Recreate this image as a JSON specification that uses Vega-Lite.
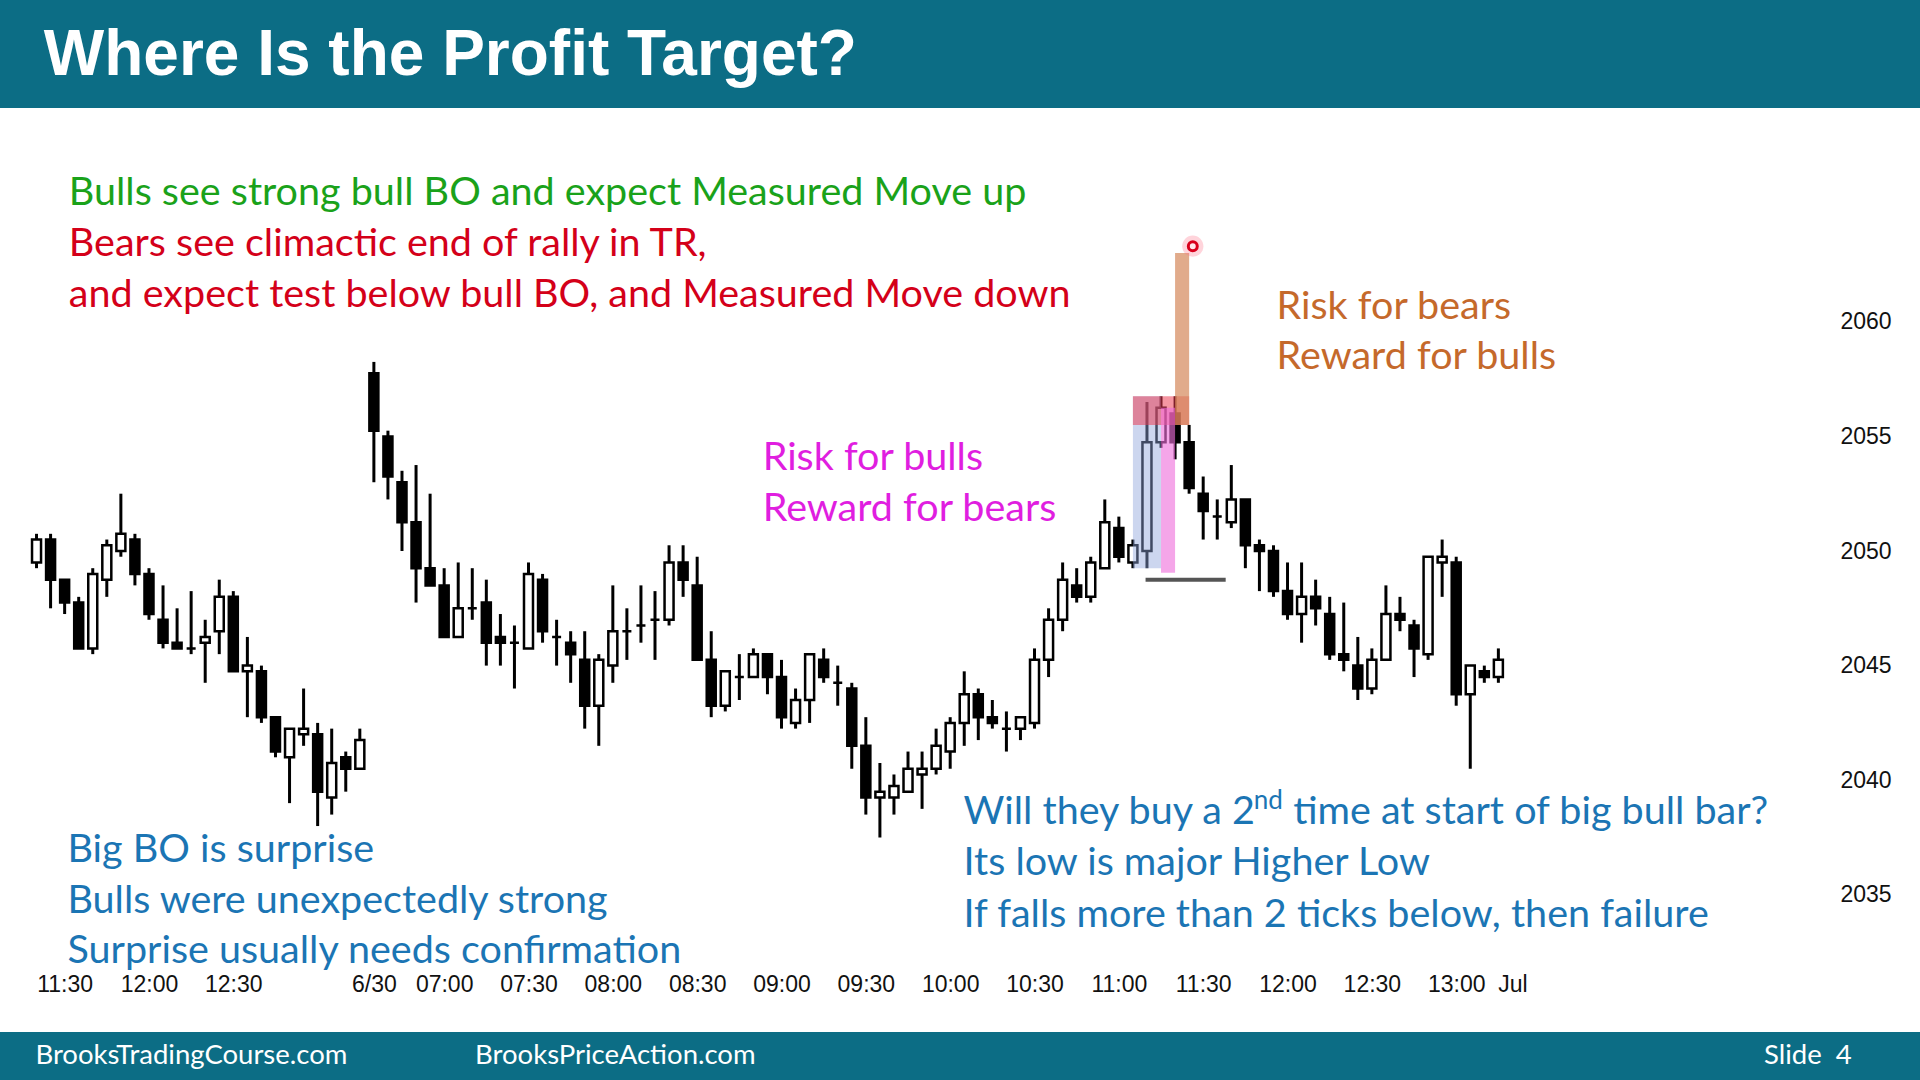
{
  "$schema": "https://vega.github.io/schema/vega-lite/v6.json",
  "width": 1920,
  "height": 1080,
  "autosize": {"type": "none"},
  "padding": 0,
  "background": "white",
  "config": {"view": {"stroke": null}, "axis": {"grid": false, "domain": false, "ticks": false, "tickSize": 0}},
  "datasets": {
    "bands": [
      {"x1": -10, "x2": 150, "y1": 2069.33, "y2": 2080},
      {"x1": -10, "x2": 150, "y1": 2020, "y2": 2029.01}
    ],
    "candles": [
      {"i":0,"o":2049.5,"h":2050.75,"l":2049.25,"c":2050.5},
      {"i":1,"o":2050.5,"h":2050.75,"l":2047.5,"c":2048.75},
      {"i":2,"o":2048.75,"h":2048.75,"l":2047.25,"c":2047.75},
      {"i":3,"o":2047.75,"h":2048.0,"l":2045.75,"c":2045.75},
      {"i":4,"o":2045.75,"h":2049.25,"l":2045.5,"c":2049.0},
      {"i":5,"o":2048.75,"h":2050.5,"l":2048.0,"c":2050.25},
      {"i":6,"o":2050.0,"h":2052.5,"l":2049.75,"c":2050.75},
      {"i":7,"o":2050.5,"h":2050.75,"l":2048.5,"c":2049.0},
      {"i":8,"o":2049.0,"h":2049.25,"l":2047.0,"c":2047.25},
      {"i":9,"o":2047.0,"h":2048.5,"l":2045.75,"c":2046.0},
      {"i":10,"o":2046.0,"h":2047.5,"l":2045.75,"c":2045.75},
      {"i":11,"o":2045.75,"h":2048.25,"l":2045.5,"c":2045.75},
      {"i":12,"o":2046.0,"h":2047.0,"l":2044.25,"c":2046.25},
      {"i":13,"o":2046.5,"h":2048.75,"l":2045.5,"c":2048.0},
      {"i":14,"o":2048.0,"h":2048.25,"l":2044.75,"c":2044.75},
      {"i":15,"o":2044.75,"h":2046.25,"l":2042.75,"c":2045.0},
      {"i":16,"o":2044.75,"h":2045.0,"l":2042.5,"c":2042.75},
      {"i":17,"o":2042.75,"h":2042.75,"l":2041.0,"c":2041.25},
      {"i":18,"o":2041.0,"h":2042.25,"l":2039.0,"c":2042.25},
      {"i":19,"o":2042.0,"h":2044.0,"l":2041.5,"c":2042.25},
      {"i":20,"o":2042.0,"h":2042.5,"l":2038.0,"c":2039.5},
      {"i":21,"o":2039.25,"h":2042.25,"l":2038.5,"c":2040.75},
      {"i":22,"o":2041.0,"h":2041.25,"l":2039.5,"c":2040.5},
      {"i":23,"o":2040.5,"h":2042.25,"l":2040.5,"c":2041.75},
      {"i":24,"o":2057.75,"h":2058.25,"l":2053.0,"c":2055.25},
      {"i":25,"o":2055.0,"h":2055.25,"l":2052.25,"c":2053.25},
      {"i":26,"o":2053.0,"h":2053.5,"l":2050.0,"c":2051.25},
      {"i":27,"o":2051.25,"h":2053.75,"l":2047.75,"c":2049.25},
      {"i":28,"o":2049.25,"h":2052.5,"l":2048.5,"c":2048.5},
      {"i":29,"o":2048.5,"h":2049.25,"l":2046.25,"c":2046.25},
      {"i":30,"o":2046.25,"h":2049.5,"l":2046.25,"c":2047.5},
      {"i":31,"o":2047.5,"h":2049.25,"l":2047.0,"c":2047.5},
      {"i":32,"o":2047.75,"h":2048.75,"l":2045.0,"c":2046.0},
      {"i":33,"o":2046.25,"h":2047.25,"l":2045.0,"c":2046.0},
      {"i":34,"o":2046.0,"h":2046.75,"l":2044.0,"c":2046.0},
      {"i":35,"o":2045.75,"h":2049.5,"l":2045.75,"c":2049.0},
      {"i":36,"o":2048.75,"h":2049.0,"l":2046.0,"c":2046.5},
      {"i":37,"o":2046.25,"h":2047.0,"l":2045.0,"c":2046.25},
      {"i":38,"o":2046.0,"h":2046.5,"l":2044.25,"c":2045.5},
      {"i":39,"o":2045.25,"h":2046.5,"l":2042.25,"c":2043.25},
      {"i":40,"o":2043.25,"h":2045.5,"l":2041.5,"c":2045.25},
      {"i":41,"o":2045.0,"h":2048.5,"l":2044.25,"c":2046.5},
      {"i":42,"o":2046.5,"h":2047.5,"l":2045.25,"c":2046.5},
      {"i":43,"o":2046.75,"h":2048.5,"l":2046.0,"c":2046.75},
      {"i":44,"o":2047.0,"h":2048.25,"l":2045.25,"c":2047.0},
      {"i":45,"o":2047.0,"h":2050.25,"l":2046.75,"c":2049.5},
      {"i":46,"o":2049.5,"h":2050.25,"l":2048.0,"c":2048.75},
      {"i":47,"o":2048.5,"h":2049.75,"l":2045.25,"c":2045.25},
      {"i":48,"o":2045.25,"h":2046.5,"l":2042.75,"c":2043.25},
      {"i":49,"o":2043.25,"h":2044.75,"l":2043.0,"c":2044.75},
      {"i":50,"o":2044.5,"h":2045.5,"l":2043.5,"c":2044.5},
      {"i":51,"o":2044.5,"h":2045.75,"l":2044.5,"c":2045.5},
      {"i":52,"o":2045.5,"h":2045.5,"l":2043.75,"c":2044.5},
      {"i":53,"o":2044.5,"h":2045.25,"l":2042.25,"c":2042.75},
      {"i":54,"o":2042.5,"h":2044.0,"l":2042.25,"c":2043.5},
      {"i":55,"o":2043.5,"h":2045.5,"l":2042.5,"c":2045.5},
      {"i":56,"o":2045.25,"h":2045.75,"l":2044.25,"c":2044.5},
      {"i":57,"o":2044.25,"h":2045.0,"l":2043.25,"c":2044.25},
      {"i":58,"o":2044.0,"h":2044.25,"l":2040.5,"c":2041.5},
      {"i":59,"o":2041.5,"h":2042.75,"l":2038.5,"c":2039.25},
      {"i":60,"o":2039.25,"h":2040.75,"l":2037.5,"c":2039.5},
      {"i":61,"o":2039.25,"h":2040.25,"l":2038.5,"c":2039.75},
      {"i":62,"o":2039.5,"h":2041.25,"l":2039.5,"c":2040.5},
      {"i":63,"o":2040.25,"h":2041.25,"l":2038.75,"c":2040.5},
      {"i":64,"o":2040.5,"h":2042.25,"l":2040.25,"c":2041.5},
      {"i":65,"o":2041.25,"h":2042.75,"l":2040.5,"c":2042.5},
      {"i":66,"o":2042.5,"h":2044.75,"l":2041.5,"c":2043.75},
      {"i":67,"o":2043.75,"h":2044.0,"l":2041.75,"c":2042.75},
      {"i":68,"o":2042.75,"h":2043.5,"l":2042.25,"c":2042.5},
      {"i":69,"o":2042.25,"h":2043.0,"l":2041.25,"c":2042.25},
      {"i":70,"o":2042.25,"h":2042.75,"l":2041.75,"c":2042.75},
      {"i":71,"o":2042.5,"h":2045.75,"l":2042.25,"c":2045.25},
      {"i":72,"o":2045.25,"h":2047.5,"l":2044.5,"c":2047.0},
      {"i":73,"o":2047.0,"h":2049.5,"l":2046.5,"c":2048.75},
      {"i":74,"o":2048.5,"h":2049.25,"l":2047.75,"c":2048.0},
      {"i":75,"o":2048.0,"h":2049.75,"l":2047.75,"c":2049.5},
      {"i":76,"o":2049.25,"h":2052.25,"l":2049.25,"c":2051.25},
      {"i":77,"o":2051.0,"h":2051.5,"l":2049.5,"c":2049.75},
      {"i":78,"o":2049.5,"h":2050.5,"l":2049.25,"c":2050.25},
      {"i":79,"o":2050.0,"h":2056.5,"l":2049.25,"c":2054.75},
      {"i":80,"o":2054.75,"h":2056.75,"l":2054.5,"c":2056.25},
      {"i":81,"o":2056.0,"h":2056.75,"l":2054.0,"c":2054.75},
      {"i":82,"o":2054.75,"h":2055.5,"l":2052.5,"c":2052.75},
      {"i":83,"o":2052.5,"h":2053.25,"l":2050.5,"c":2051.75},
      {"i":84,"o":2051.5,"h":2052.25,"l":2050.5,"c":2051.5},
      {"i":85,"o":2051.25,"h":2053.75,"l":2051.0,"c":2052.25},
      {"i":86,"o":2052.25,"h":2052.25,"l":2049.25,"c":2050.25},
      {"i":87,"o":2050.25,"h":2050.5,"l":2048.25,"c":2050.0},
      {"i":88,"o":2050.0,"h":2050.25,"l":2048.0,"c":2048.25},
      {"i":89,"o":2048.25,"h":2049.5,"l":2047.0,"c":2047.25},
      {"i":90,"o":2047.25,"h":2049.5,"l":2046.0,"c":2048.0},
      {"i":91,"o":2048.0,"h":2048.75,"l":2046.75,"c":2047.5},
      {"i":92,"o":2047.25,"h":2048.0,"l":2045.25,"c":2045.5},
      {"i":93,"o":2045.5,"h":2047.75,"l":2044.75,"c":2045.25},
      {"i":94,"o":2045.0,"h":2046.25,"l":2043.5,"c":2044.0},
      {"i":95,"o":2044.0,"h":2045.75,"l":2043.75,"c":2045.25},
      {"i":96,"o":2045.25,"h":2048.5,"l":2045.25,"c":2047.25},
      {"i":97,"o":2047.25,"h":2048.0,"l":2046.5,"c":2047.0},
      {"i":98,"o":2046.75,"h":2047.0,"l":2044.5,"c":2045.75},
      {"i":99,"o":2045.5,"h":2049.75,"l":2045.25,"c":2049.75},
      {"i":100,"o":2049.5,"h":2050.5,"l":2048.0,"c":2049.75},
      {"i":101,"o":2049.5,"h":2049.75,"l":2043.25,"c":2043.75},
      {"i":102,"o":2043.75,"h":2045.0,"l":2040.5,"c":2045.0},
      {"i":103,"o":2044.75,"h":2045.0,"l":2044.25,"c":2044.5},
      {"i":104,"o":2044.5,"h":2045.75,"l":2044.25,"c":2045.25}
    ],
    "zones": [
      {"zone": "bull BO", "i1": 78, "i2": 80, "p1": 2049.25, "p2": 2056.75},
      {"zone": "top", "i1": 78, "i2": 82, "p1": 2055.5, "p2": 2056.75},
      {"zone": "risk bulls", "i1": 80, "i2": 81, "p1": 2049.05, "p2": 2056.25},
      {"zone": "risk bears", "i1": 81, "i2": 82, "p1": 2055.5, "p2": 2063.0}
    ],
    "level": [{"i1": 78.9, "i2": 84.6, "p": 2048.75}],
    "pointer": [{"i": 82.26, "p": 2063.3}],
    "notes": [
      {"who": "bulls", "i": 2.3, "p": 2065.6, "text": "Bulls see strong bull BO and expect Measured Move up"},
      {"who": "bears", "i": 2.3, "p": 2063.4, "text": "Bears see climactic end of rally in TR,"},
      {"who": "bears", "i": 2.3, "p": 2061.15, "text": "and expect test below bull BO, and Measured Move down"},
      {"who": "risk bulls", "i": 51.66, "p": 2054.07, "text": "Risk for bulls"},
      {"who": "risk bulls", "i": 51.66, "p": 2051.82, "text": "Reward for bears"},
      {"who": "risk bears", "i": 88.22, "p": 2060.64, "text": "Risk for bears"},
      {"who": "risk bears", "i": 88.22, "p": 2058.45, "text": "Reward for bulls"},
      {"who": "surprise", "i": 2.2, "p": 2036.97, "text": "Big BO is surprise"},
      {"who": "surprise", "i": 2.2, "p": 2034.73, "text": "Bulls were unexpectedly strong"},
      {"who": "surprise", "i": 2.2, "p": 2032.53, "text": "Surprise usually needs confirmation"},
      {"who": "higher low", "i": 65.95, "p": 2038.63, "text": "Will they buy a 2"},
      {"who": "higher low", "i": 89.4, "p": 2038.63, "text": "time at start of big bull bar?"},
      {"who": "higher low", "i": 65.95, "p": 2036.38, "text": "Its low is major Higher Low"},
      {"who": "higher low", "i": 65.95, "p": 2034.14, "text": "If falls more than 2 ticks below, then failure"}
    ],
    "sup": [{"i": 86.6, "p": 2039.09, "text": "nd"}],
    "title": [{"i": 0.52, "p": 2071.58, "text": "Where Is the Profit Target?"}],
    "footer": [
      {"i": -0.08, "p": 2027.95, "text": "BrooksTradingCourse.com"},
      {"i": 31.2, "p": 2027.95, "text": "BrooksPriceAction.com"},
      {"i": 122.9, "p": 2027.95, "text": "Slide\u00a0\u00a04"}
    ]
  },
  "resolve": {"scale": {"color": "independent", "opacity": "independent"}},
  "layer": [
    {
      "data": {"name": "bands"},
      "mark": {"type": "rect", "color": "#0c6d85", "clip": true},
      "encoding": {
        "x": {"field": "x1", "type": "quantitative", "scale": {"domain": [-2.243, 133.64], "nice": false, "zero": false},
          "axis": {"orient": "bottom", "offset": -95.5, "title": null, "domain": false, "ticks": false, "tickSize": 0, "grid": false,
            "labelPadding": 0, "labelBaseline": "middle", "labelFont": "Liberation Sans", "labelFontSize": 23, "labelColor": "#111111",
            "labelOverlap": false, "labelFlush": false,
            "values": [2, 8, 14, 24, 29, 35, 41, 47, 53, 59, 65, 71, 77, 83, 89, 95, 101, 105],
            "labelExpr": "datum.value == 24 ? '6/30' : datum.value == 105 ? 'Jul' : format(floor((datum.value < 24 ? 680 + datum.value * 5 : 395 + (datum.value - 24) * 5) / 60), '02d') + ':' + format((datum.value < 24 ? 680 + datum.value * 5 : 395 + (datum.value - 24) * 5) % 60, '02d')"}},
        "x2": {"field": "x2"},
        "y": {"field": "y1", "type": "quantitative", "scale": {"domain": [2026.92, 2074.04], "nice": false, "zero": false},
          "axis": {"orient": "right", "offset": -80, "title": null, "domain": false, "ticks": false, "tickSize": 0, "grid": false, "format": "d",
            "labelPadding": 0, "labelAlign": "left", "labelBaseline": "middle", "labelFont": "Liberation Sans", "labelFontSize": 23, "labelColor": "#111111",
            "values": [2035, 2040, 2045, 2050, 2055, 2060]}},
        "y2": {"field": "y2"}
      }
    },
    {
      "data": {"name": "candles"},
      "mark": {"type": "rule", "color": "black", "strokeWidth": 3},
      "encoding": {
        "x": {"field": "i", "type": "quantitative", "scale": {"domain": [-2.243, 133.64], "nice": false, "zero": false}},
        "y": {"field": "l", "type": "quantitative", "scale": {"domain": [2026.92, 2074.04], "nice": false, "zero": false}},
        "y2": {"field": "h"}
      }
    },
    {
      "data": {"name": "candles"},
      "mark": {"type": "bar", "size": 9, "stroke": "black", "strokeWidth": 2.5},
      "encoding": {
        "x": {"field": "i", "type": "quantitative", "scale": {"domain": [-2.243, 133.64], "nice": false, "zero": false}},
        "y": {"field": "o", "type": "quantitative", "scale": {"domain": [2026.92, 2074.04], "nice": false, "zero": false}},
        "y2": {"field": "c"},
        "fill": {"condition": {"test": "datum.c >= datum.o", "value": "white"}, "value": "black"}
      }
    },
    {
      "data": {"name": "zones"},
      "mark": {"type": "rect"},
      "encoding": {
        "x": {"field": "i1", "type": "quantitative", "scale": {"domain": [-2.243, 133.64], "nice": false, "zero": false}},
        "x2": {"field": "i2"},
        "y": {"field": "p1", "type": "quantitative", "scale": {"domain": [2026.92, 2074.04], "nice": false, "zero": false}},
        "y2": {"field": "p2"},
        "color": {"field": "zone", "type": "nominal", "legend": null,
          "scale": {"domain": ["bull BO", "top", "risk bulls", "risk bears"], "range": ["#8ea4dc", "#ec3a50", "#ee6fdc", "#d4875a"]}},
        "opacity": {"field": "zone", "type": "nominal", "legend": null,
          "scale": {"domain": ["bull BO", "top", "risk bulls", "risk bears"], "range": [0.45, 0.7, 0.85, 0.75]}}
      }
    },
    {
      "data": {"name": "level"},
      "mark": {"type": "rule", "color": "#555555", "strokeWidth": 4},
      "encoding": {
        "x": {"field": "i1", "type": "quantitative", "scale": {"domain": [-2.243, 133.64], "nice": false, "zero": false}},
        "x2": {"field": "i2"},
        "y": {"field": "p", "type": "quantitative", "scale": {"domain": [2026.92, 2074.04], "nice": false, "zero": false}}
      }
    },
    {
      "data": {"name": "pointer"},
      "mark": {"type": "circle", "color": "#ff7088", "opacity": 0.3, "size": 450},
      "encoding": {
        "x": {"field": "i", "type": "quantitative", "scale": {"domain": [-2.243, 133.64], "nice": false, "zero": false}},
        "y": {"field": "p", "type": "quantitative", "scale": {"domain": [2026.92, 2074.04], "nice": false, "zero": false}}
      }
    },
    {
      "data": {"name": "pointer"},
      "mark": {"type": "point", "shape": "circle", "filled": false, "fill": "#ffe8ec", "stroke": "#d8001c", "strokeWidth": 3, "size": 80, "opacity": 1},
      "encoding": {
        "x": {"field": "i", "type": "quantitative", "scale": {"domain": [-2.243, 133.64], "nice": false, "zero": false}},
        "y": {"field": "p", "type": "quantitative", "scale": {"domain": [2026.92, 2074.04], "nice": false, "zero": false}}
      }
    },
    {
      "data": {"name": "notes"},
      "mark": {"type": "text", "align": "left", "baseline": "middle", "font": "Lato", "fontSize": 39.5},
      "encoding": {
        "x": {"field": "i", "type": "quantitative", "scale": {"domain": [-2.243, 133.64], "nice": false, "zero": false}},
        "y": {"field": "p", "type": "quantitative", "scale": {"domain": [2026.92, 2074.04], "nice": false, "zero": false}},
        "text": {"field": "text"},
        "color": {"field": "who", "type": "nominal", "legend": null,
          "scale": {"domain": ["bulls", "bears", "risk bulls", "risk bears", "surprise", "higher low"],
                    "range": ["#1aa21a", "#d40019", "#e01ee0", "#c5692b", "#1b75b4", "#1b75b4"]}}
      }
    },
    {
      "data": {"name": "sup"},
      "mark": {"type": "text", "align": "left", "baseline": "middle", "font": "Lato", "fontSize": 26, "color": "#1b75b4"},
      "encoding": {
        "x": {"field": "i", "type": "quantitative", "scale": {"domain": [-2.243, 133.64], "nice": false, "zero": false}},
        "y": {"field": "p", "type": "quantitative", "scale": {"domain": [2026.92, 2074.04], "nice": false, "zero": false}},
        "text": {"field": "text"}
      }
    },
    {
      "data": {"name": "title"},
      "mark": {"type": "text", "align": "left", "baseline": "middle", "font": "Liberation Sans", "fontWeight": "bold", "fontSize": 64, "color": "white"},
      "encoding": {
        "x": {"field": "i", "type": "quantitative", "scale": {"domain": [-2.243, 133.64], "nice": false, "zero": false}},
        "y": {"field": "p", "type": "quantitative", "scale": {"domain": [2026.92, 2074.04], "nice": false, "zero": false}},
        "text": {"field": "text"}
      }
    },
    {
      "data": {"name": "footer"},
      "mark": {"type": "text", "align": "left", "baseline": "middle", "font": "Lato", "fontSize": 27.5, "color": "white"},
      "encoding": {
        "x": {"field": "i", "type": "quantitative", "scale": {"domain": [-2.243, 133.64], "nice": false, "zero": false}},
        "y": {"field": "p", "type": "quantitative", "scale": {"domain": [2026.92, 2074.04], "nice": false, "zero": false}},
        "text": {"field": "text"}
      }
    }
  ]
}
